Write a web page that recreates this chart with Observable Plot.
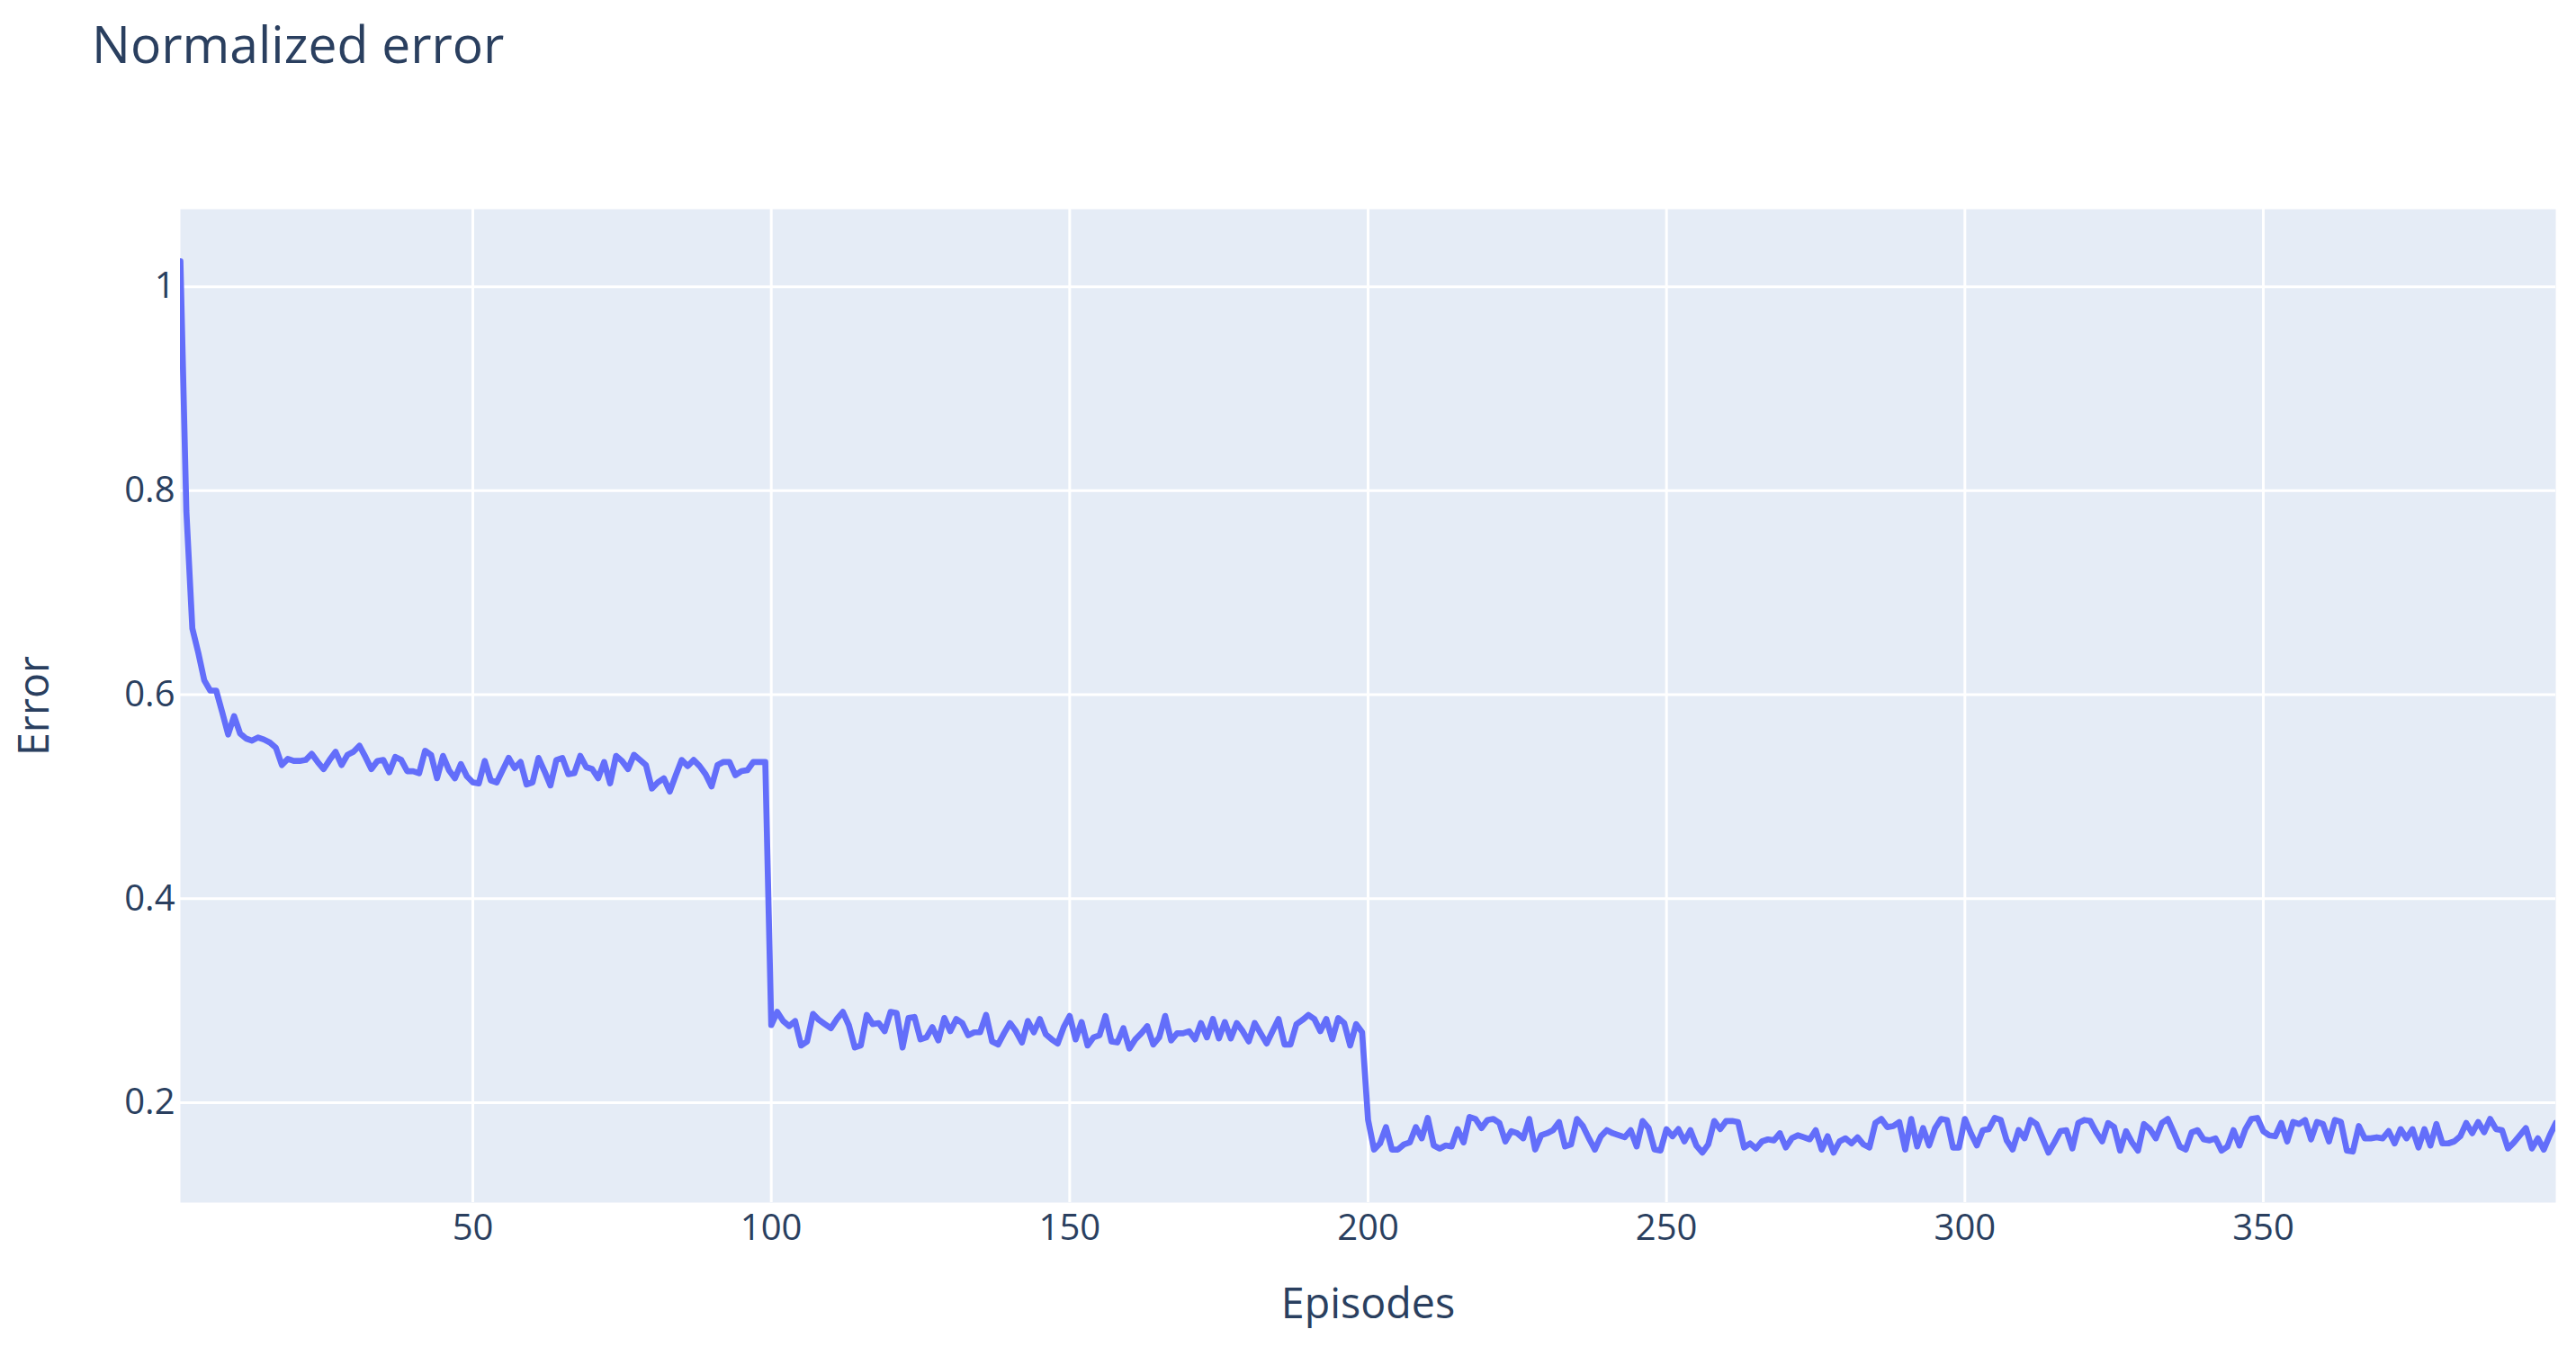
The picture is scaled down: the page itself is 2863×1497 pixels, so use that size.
<!DOCTYPE html>
<html>
<head>
<meta charset="utf-8">
<script src="https://cdn.jsdelivr.net/npm/d3@7"></script>
<script src="https://cdn.jsdelivr.net/npm/@observablehq/plot@0.6"></script>
<style>
  html, body { margin: 0; padding: 0; background: #ffffff; }
  #title {
    font-family: "Open Sans", sans-serif;
    font-size: 57px;
    line-height: 57px;
    color: #2a3f5f;
    padding-left: 102px;
    padding-top: 20px;
    height: 90px;
    white-space: nowrap;
  }
</style>
</head>
<body>
<div id="title">Normalized error</div>
<div id="chart"></div>
<script>
// Error per episode (episodes 1..399)
const phase1 = [ // episodes 1-99
  1.025, 0.78, 0.665, 0.641, 0.614, 0.604, 0.604, 0.583, 0.561, 0.579,
  0.562, 0.557, 0.555, 0.558, 0.556, 0.553, 0.548, 0.531, 0.537, 0.535,
  0.535, 0.536, 0.542, 0.534, 0.527, 0.536, 0.544, 0.531, 0.541, 0.544,
  0.550, 0.539, 0.527, 0.535, 0.536, 0.524, 0.539, 0.536, 0.525, 0.525,
  0.523, 0.545, 0.541, 0.518, 0.540, 0.526, 0.518, 0.532, 0.520, 0.514,
  0.513, 0.535, 0.516, 0.514, 0.526, 0.538, 0.528, 0.534, 0.512, 0.514,
  0.538, 0.525, 0.511, 0.536, 0.538, 0.522, 0.523, 0.540, 0.529, 0.527,
  0.518, 0.534, 0.513, 0.540, 0.535, 0.527, 0.541, 0.536, 0.531, 0.508,
  0.514, 0.518, 0.505, 0.521, 0.536, 0.530, 0.536, 0.530, 0.522, 0.510,
  0.531, 0.534, 0.534, 0.521, 0.525, 0.526, 0.534, 0.534, 0.534
];
const phase2 = [ // episodes 100-199
  0.276, 0.289, 0.280, 0.275, 0.280, 0.256, 0.260, 0.287, 0.281, 0.277,
  0.273, 0.282, 0.289, 0.276, 0.254, 0.256, 0.286, 0.277, 0.278, 0.270,
  0.289, 0.288, 0.254, 0.283, 0.284, 0.262, 0.264, 0.274, 0.261, 0.283,
  0.270, 0.282, 0.278, 0.266, 0.269, 0.269, 0.286, 0.260, 0.257, 0.268,
  0.278, 0.270, 0.259, 0.280, 0.269, 0.282, 0.267, 0.262, 0.258, 0.274,
  0.285, 0.262, 0.279, 0.256, 0.264, 0.266, 0.285, 0.260, 0.259, 0.273,
  0.253, 0.262, 0.268, 0.275, 0.257, 0.264, 0.285, 0.261, 0.268, 0.268,
  0.270, 0.262, 0.278, 0.264, 0.282, 0.263, 0.279, 0.263, 0.278, 0.270,
  0.260, 0.278, 0.268, 0.258, 0.270, 0.282, 0.257, 0.257, 0.277, 0.281,
  0.286, 0.282, 0.270, 0.282, 0.262, 0.283, 0.278, 0.256, 0.277, 0.269
];
const phase3 = [ // episodes 200-299
  0.183, 0.154, 0.160, 0.176, 0.154, 0.154, 0.159, 0.161, 0.176, 0.165,
  0.185, 0.158, 0.155, 0.158, 0.157, 0.174, 0.161, 0.186, 0.184, 0.175,
  0.183, 0.184, 0.180, 0.162, 0.172, 0.170, 0.165, 0.184, 0.154, 0.168,
  0.170, 0.173, 0.181, 0.157, 0.159, 0.184, 0.177, 0.165, 0.154, 0.167,
  0.173, 0.170, 0.168, 0.166, 0.173, 0.157, 0.182, 0.175, 0.154, 0.153,
  0.174, 0.167, 0.174, 0.162, 0.173, 0.158, 0.151, 0.159, 0.182, 0.174,
  0.182, 0.182, 0.181, 0.156, 0.160, 0.155, 0.162, 0.164, 0.163, 0.170,
  0.156, 0.165, 0.168, 0.166, 0.164, 0.173, 0.154, 0.167, 0.151, 0.162,
  0.165, 0.160, 0.166, 0.159, 0.156, 0.180, 0.184, 0.176, 0.177, 0.181,
  0.154, 0.184, 0.157, 0.175, 0.158, 0.175, 0.184, 0.183, 0.156, 0.156
];
const phase4 = [ // episodes 300-399
  0.184, 0.170, 0.158, 0.173, 0.174, 0.185, 0.183, 0.163, 0.154, 0.173,
  0.165, 0.183, 0.179, 0.165, 0.151, 0.161, 0.172, 0.173, 0.155, 0.180,
  0.183, 0.182, 0.171, 0.162, 0.180, 0.176, 0.153, 0.172, 0.161, 0.153,
  0.179, 0.174, 0.165, 0.180, 0.184, 0.171, 0.157, 0.154, 0.171, 0.173,
  0.164, 0.163, 0.165, 0.153, 0.157, 0.173, 0.158, 0.174, 0.184, 0.185,
  0.172, 0.168, 0.167, 0.180, 0.162, 0.181, 0.179, 0.183, 0.164, 0.181,
  0.179, 0.162, 0.183, 0.181, 0.153, 0.152, 0.177, 0.165, 0.165, 0.166,
  0.165, 0.172, 0.160, 0.174, 0.165, 0.174, 0.156, 0.174, 0.158, 0.179,
  0.160, 0.160, 0.162, 0.167, 0.180, 0.170, 0.181, 0.171, 0.184, 0.174,
  0.173, 0.155, 0.161, 0.168, 0.175, 0.155, 0.165, 0.154, 0.168, 0.180
];
const xTicks = [50, 100, 150, 200, 250, 300, 350];
const yTicks = [0.2, 0.4, 0.6, 0.8, 1];
const xLabel = "Episodes";
const yLabel = "Error";

const errors = [...phase1, ...phase2, ...phase3, ...phase4];
const data = errors.map((v, i) => ({episode: i + 1, error: v}));

const chart = Plot.plot({
  width: 2863,
  height: 1387,
  marginLeft: 200,
  marginRight: 23,
  marginTop: 122,
  marginBottom: 161,
  style: {
    fontFamily: "'Open Sans', sans-serif",
    color: "#2a3f5f",
    background: "#ffffff",
    overflow: "visible"
  },
  x: {domain: [1, 399]},
  y: {domain: [0.102, 1.076]},
  marks: [
    Plot.frame({fill: "#E5ECF6", stroke: null}),
    Plot.gridX({ticks: xTicks, stroke: "#ffffff", strokeOpacity: 1, strokeWidth: 3}),
    Plot.gridY({ticks: yTicks, stroke: "#ffffff", strokeOpacity: 1, strokeWidth: 3}),
    Plot.axisX({ticks: xTicks, tickSize: 0, tickPadding: 13, tickFormat: d => String(d), fontSize: 40, label: null}),
    Plot.axisX({ticks: [], tickSize: 0, label: xLabel, labelAnchor: "center", labelArrow: "none", labelOffset: 128, fontSize: 46.6}),
    Plot.axisY({ticks: yTicks, tickSize: 0, tickPadding: 6, tickFormat: d => String(d), fontSize: 40, label: null}),
    Plot.axisY({ticks: [], tickSize: 0, label: yLabel, labelAnchor: "center", labelArrow: "none", labelOffset: 180, fontSize: 46.6}),
    Plot.lineY(data, {x: "episode", y: "error", stroke: "#636efa", strokeWidth: 6.67, strokeLinejoin: "round", clip: true})
  ]
});
document.getElementById("chart").appendChild(chart);
</script>
</body>
</html>
